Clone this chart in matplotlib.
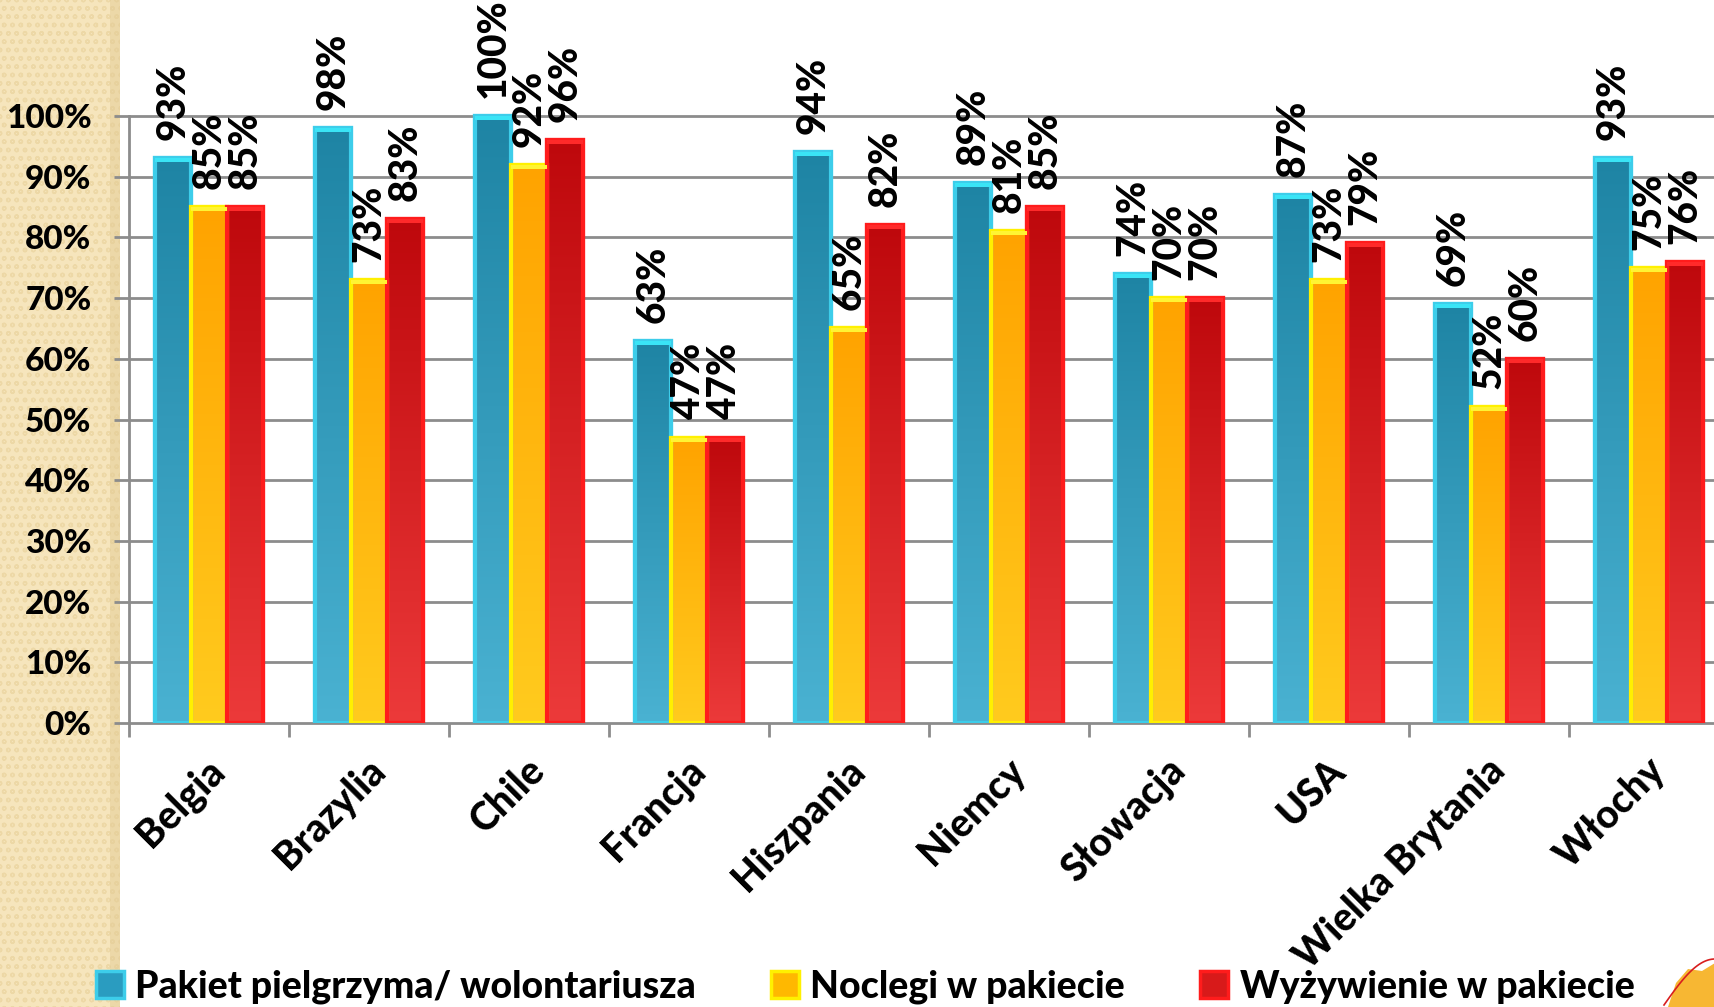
import numpy as np
import matplotlib
matplotlib.use("Agg")
import matplotlib.pyplot as plt
from matplotlib.colors import LinearSegmentedColormap
from matplotlib.patches import Rectangle, Patch, Polygon
import matplotlib.transforms as mtransforms

categories = ["Belgia", "Brazylia", "Chile", "Francja", "Hiszpania", "Niemcy",
              "Słowacja", "USA", "Wielka Brytania", "Włochy"]
series_names = ["Pakiet pielgrzyma/ wolontariusza", "Noclegi w pakiecie", "Wyżywienie w pakiecie"]
pakiet = [93, 98, 100, 63, 94, 89, 74, 87, 69, 93]
noclegi = [85, 73, 92, 47, 65, 81, 70, 73, 52, 75]
wyzywienie = [85, 83, 96, 47, 82, 85, 70, 79, 60, 76]
ytick_labels = ["0%", "10%", "20%", "30%", "40%", "50%", "60%", "70%", "80%", "90%", "100%"]

FONT = ["Lato", "DejaVu Sans"]
plt.rcParams['font.family'] = FONT
plt.rcParams['font.weight'] = 900

W, H = 1715, 1007
fig = plt.figure(figsize=(W / 100, H / 100), dpi=100)
fig.patch.set_facecolor('white')

# left decorative stripe
stripe = Rectangle((0, 0), 120 / W, 1, transform=fig.transFigure, facecolor='#F6E5BC',
                   edgecolor='#EDD8A6', hatch='oo', linewidth=0, zorder=-2)
fig.patches.append(stripe)
shadow = Rectangle((110 / W, 0), 10 / W, 1, transform=fig.transFigure, facecolor='#E3CC96',
                   edgecolor='none', alpha=0.5, zorder=-2)
fig.patches.append(shadow)

ax_left, ax_right = 129 / W, 1729 / W
ax_bottom = (H - 723) / H
ax = fig.add_axes([ax_left, ax_bottom, ax_right - ax_left, 1 - ax_bottom])
ax.set_facecolor('none')
ymax = 723 / 607.0
ax.set_xlim(0, 10)
ax.set_ylim(0, ymax)

grid_c = '#8C8C8C'
ax.set_yticks(np.arange(0, 1.01, 0.1))
ax.set_yticklabels(ytick_labels)
for yv in np.arange(0.1, 1.01, 0.1):
    ax.axhline(yv, color=grid_c, lw=2, zorder=1)
for s in ['top', 'right']:
    ax.spines[s].set_visible(False)
ax.spines['left'].set_bounds(0, 1)
ax.spines['left'].set_color(grid_c)
ax.spines['left'].set_linewidth(2)
ax.spines['bottom'].set_color(grid_c)
ax.spines['bottom'].set_linewidth(2)
ax.tick_params(axis='y', length=11, width=2, color=grid_c, pad=16, labelsize=24)
for lab in ax.get_yticklabels():
    lab.set_fontweight(900)

x = np.arange(len(categories)) + 0.5
ax.set_xticks(x)
ax.set_xticklabels(categories, rotation=45, ha='right', va='center', rotation_mode='anchor',
                   fontweight=900)
ax.set_xticks(np.arange(0, 11), minor=True)
ax.tick_params(axis='x', which='major', length=0, pad=30, labelsize=28)
ax.tick_params(axis='x', which='minor', length=10, width=2, color=grid_c)
offset = mtransforms.ScaledTranslation(10 / 100, 0, fig.dpi_scale_trans)
for lab in ax.get_xticklabels():
    lab.set_transform(lab.get_transform() + offset)

bw = 0.225
cap_h = 4 / 607.0
styles = [
    dict(edge='#3DCDEA', top='#1E84A4', bottom='#4AB2D2', leg='#2A9CC0', cap='#3AE4F6'),
    dict(edge='#FFF000', top='#FFA300', bottom='#FFCB1E', leg='#FFB800', cap='#FFF433'),
    dict(edge='#FF1C1C', top='#BE080C', bottom='#EC3A3A', leg='#D81A1A', cap='#FF2A2A'),
]
data = [pakiet, noclegi, wyzywienie]
for k, (vals, st) in enumerate(zip(data, styles)):
    vals = np.array(vals) / 100.0
    pos = x + (k - 1) * bw
    bars = ax.bar(pos, vals, width=bw, facecolor=st['leg'], edgecolor=st['edge'],
                  linewidth=3, zorder=3)
    cmap = LinearSegmentedColormap.from_list('g%d' % k, [st['bottom'], st['top']])
    grad = np.linspace(0, 1, 256).reshape(-1, 1)
    for r in bars:
        x0, y0 = r.get_xy()
        w, h = r.get_width(), r.get_height()
        im = ax.imshow(grad, extent=[x0, x0 + w, y0, y0 + h], origin='lower', cmap=cmap,
                       aspect='auto', zorder=3.5, interpolation='bilinear')
        im.set_clip_path(r)
        ax.add_patch(Rectangle((x0, y0), w, h, facecolor='none', edgecolor=st['edge'],
                               linewidth=3, zorder=4))
        ax.add_patch(Rectangle((x0, y0 + h - cap_h), w, cap_h, facecolor=st['cap'],
                               edgecolor='none', zorder=4.2))
    for px, v in zip(pos, vals):
        ax.annotate(f"{int(round(v * 100))}%", (px, v), xytext=(0, 13), textcoords='offset points',
                    rotation=90, ha='center', va='bottom', fontsize=28, fontweight=900,
                    zorder=5, annotation_clip=False)

ax.set_xlim(0, 10)
ax.set_ylim(0, ymax)

handles = [Patch(facecolor=st['leg'], edgecolor=st['edge'], linewidth=2.5) for st in styles]
fig.legend(handles, series_names, loc='center left', bbox_to_anchor=(96 / W, 0.02),
           ncol=3, frameon=False, handlelength=0.75, handleheight=0.75,
           handletextpad=0.3, columnspacing=2.0, borderpad=0, borderaxespad=0,
           prop={'weight': 900, 'size': 27})

# bottom-right decoration
deco = Polygon([(1668 / W, 0), (1676 / W, 24 / H), (1688 / W, 38 / H), (1702 / W, 36 / H),
                (1715 / W, 44 / H), (1715 / W, 0)], closed=True, transform=fig.transFigure,
               facecolor='#F7B733', edgecolor='none', zorder=1)
fig.patches.append(deco)
t = np.linspace(0, 1, 30)
fig.lines.append(plt.Line2D((1664 + 51 * t) / W, (2 + 46 * np.sin(t * np.pi / 2)) / H,
                            transform=fig.transFigure, color='#D81E1E', lw=1.2))

fig.savefig("out.png", dpi=100, facecolor='white')
